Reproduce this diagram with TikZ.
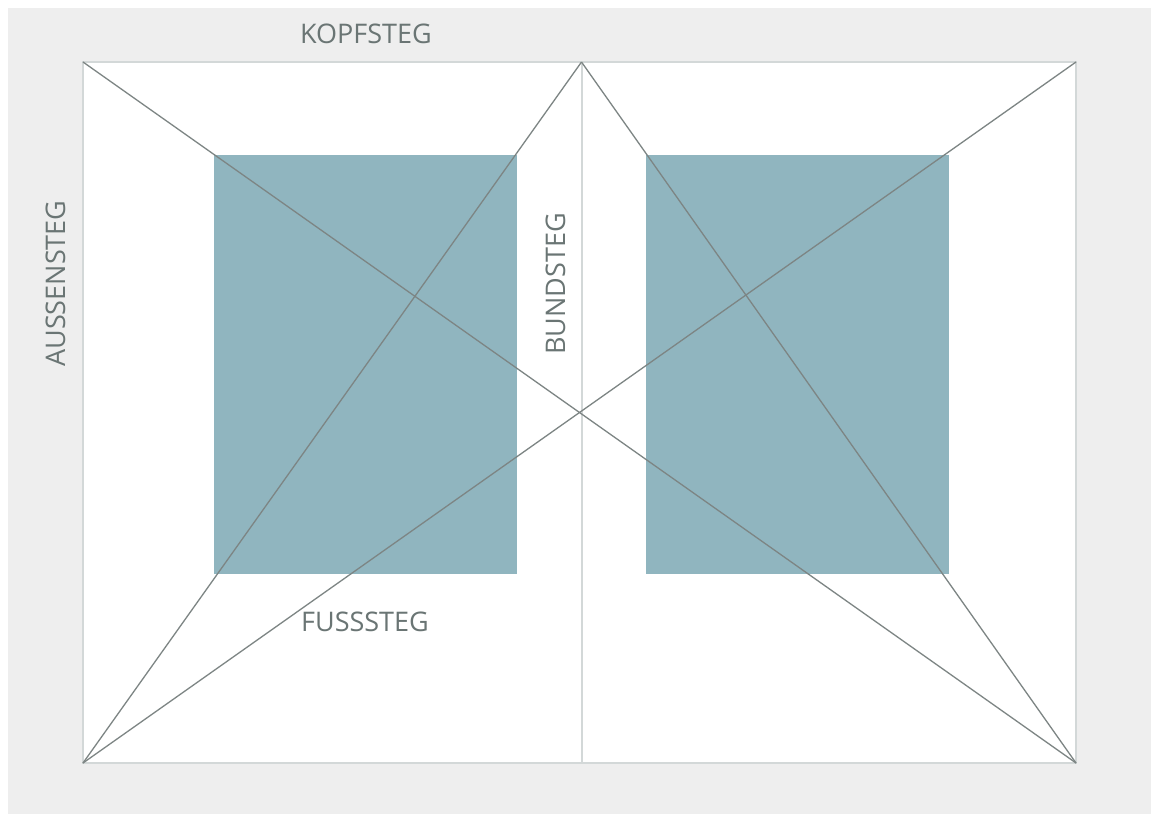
\documentclass[tikz,border=0pt]{standalone}
\usepackage{fontspec}
\setmainfont{Open Sans}
\definecolor{bggray}{HTML}{EEEEEE}
\definecolor{framegray}{HTML}{D3D8D8}
\definecolor{linegray}{HTML}{7D8584}
\definecolor{labelgray}{HTML}{6A7574}
\definecolor{blocktint}{HTML}{90B5BF}
\tikzset{
  diag/.style={draw=linegray, line width=1.3pt},
  pageedge/.style={draw=framegray, line width=2pt},
  textblock/.style={fill=blocktint, draw=none},
  steglabel/.style={text=labelgray, font=\fontsize{27}{27}\selectfont, inner sep=0pt, anchor=base},
}
\begin{document}
\begin{tikzpicture}[x=1pt,y=-1pt]
  \useasboundingbox (0,0) rectangle (1151,814);
  \fill[white] (0,0) rectangle (1151,814);
  \fill[bggray] (8,8) rectangle (1151,814);
  % double page spread
  \coordinate (tl) at (83,62);
  \coordinate (tr) at (1076,62);
  \coordinate (bl) at (83,763);
  \coordinate (br) at (1076,763);
  \coordinate (tm) at (581.5,62);
  \coordinate (bm) at (581.5,763);
  \fill[white] (tl) rectangle (br);
  % type areas
  \fill[textblock] (214,155) rectangle (517,574);
  \fill[textblock] (646,155) rectangle (949,574);
  % spine and page border
  \draw[pageedge] (tm) -- (bm);
  \draw[pageedge] (tl) rectangle (br);
  % construction diagonals
  \draw[diag] (tl) -- (br);
  \draw[diag] (tr) -- (bl);
  \draw[diag] (tm) -- (bl);
  \draw[diag] (tm) -- (br);
  % margin labels
  \node[steglabel] (kopf) at (366,43) {KOPFSTEG};
  \node[steglabel] (fuss) at (365,631) {FUSSSTEG};
  \node[steglabel, rotate=90] (aussen) at (65,283.5) {AUSSENSTEG};
  \node[steglabel, rotate=90] (bund) at (565,284) {BUNDSTEG};
\end{tikzpicture}
\end{document}
